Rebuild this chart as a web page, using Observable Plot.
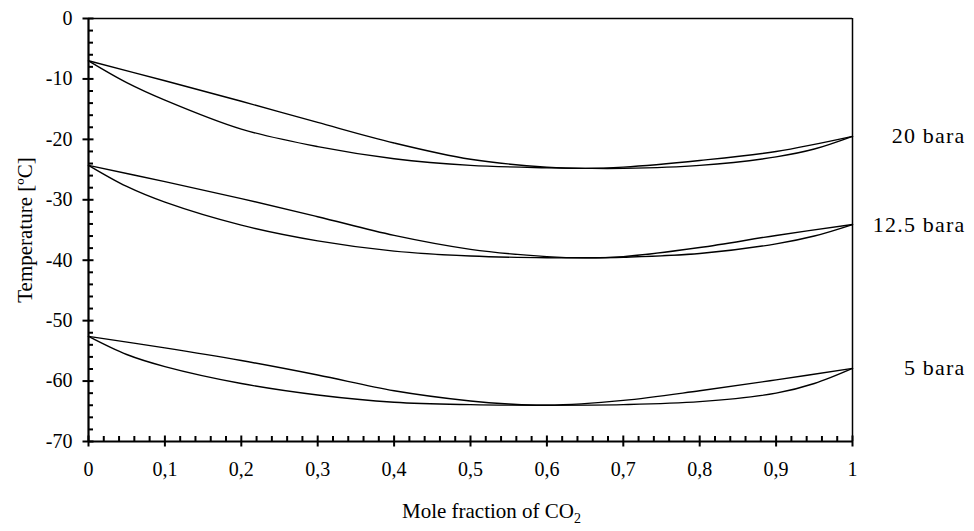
<!DOCTYPE html>
<html>
<head>
<meta charset="utf-8">
<script src="https://cdn.jsdelivr.net/npm/d3@7"></script>
<script src="https://cdn.jsdelivr.net/npm/@observablehq/plot@0.6"></script>
<style>
  html, body { margin: 0; padding: 0; background: #fff; }
  #chart svg { display: block; }
</style>
</head>
<body>
<div id="chart"></div>
<script>
// ---- data ----
const pressureLabels = ["20 bara", "12.5 bara", "5 bara"];

const x20Upper = [0, 0.1, 0.2, 0.3, 0.4, 0.5, 0.6, 0.65, 0.7, 0.8, 0.9, 1];
const t20Upper = [-7, -10.3, -13.7, -17.2, -20.6, -23.3, -24.6, -24.8, -24.6, -23.5, -22.0, -19.5];
const x20Lower = [0, 0.05, 0.1, 0.2, 0.3, 0.4, 0.5, 0.6, 0.65, 0.7, 0.8, 0.9, 0.95, 1];
const t20Lower = [-7, -10.6, -13.5, -18.3, -21.2, -23.2, -24.3, -24.7, -24.8, -24.8, -24.3, -22.9, -21.6, -19.5];

const x125Upper = [0, 0.1, 0.2, 0.3, 0.4, 0.5, 0.6, 0.65, 0.7, 0.8, 0.9, 1];
const t125Upper = [-24.3, -27.0, -29.8, -32.8, -35.9, -38.2, -39.4, -39.6, -39.4, -37.9, -35.9, -34.1];
const x125Lower = [0, 0.05, 0.1, 0.2, 0.3, 0.4, 0.5, 0.6, 0.65, 0.7, 0.8, 0.9, 0.95, 1];
const t125Lower = [-24.3, -27.8, -30.4, -34.2, -36.8, -38.5, -39.3, -39.6, -39.6, -39.5, -38.9, -37.3, -36.0, -34.1];

const x5Upper = [0, 0.1, 0.2, 0.3, 0.4, 0.5, 0.55, 0.6, 0.7, 0.8, 0.9, 1];
const t5Upper = [-52.6, -54.5, -56.6, -59.0, -61.6, -63.3, -63.8, -64.0, -63.2, -61.6, -59.8, -57.9];
const x5Lower = [0, 0.05, 0.1, 0.2, 0.3, 0.4, 0.5, 0.6, 0.7, 0.8, 0.9, 0.95, 1];
const t5Lower = [-52.6, -55.6, -57.6, -60.4, -62.3, -63.5, -63.9, -64.0, -63.9, -63.4, -62.0, -60.4, -57.9];

const labelT = [-19.5, -34.1, -57.9];

const xMajorTicks = [0, 0.1, 0.2, 0.3, 0.4, 0.5, 0.6, 0.7, 0.8, 0.9, 1];
const xTickLabels = ["0", "0,1", "0,2", "0,3", "0,4", "0,5", "0,6", "0,7", "0,8", "0,9", "1"];
const yMajorTicks = [0, -10, -20, -30, -40, -50, -60, -70];
const yTickLabels = ["0", "-10", "-20", "-30", "-40", "-50", "-60", "-70"];
const xTitle = "Mole fraction of CO₂";
const yTitle = "Temperature [ºC]";

// ---- build table ----
const series = [
  ["20 upper", x20Upper, t20Upper], ["20 lower", x20Lower, t20Lower],
  ["12.5 upper", x125Upper, t125Upper], ["12.5 lower", x125Lower, t125Lower],
  ["5 upper", x5Upper, t5Upper], ["5 lower", x5Lower, t5Lower]
];
const rows = series.flatMap(([key, xs, ts]) => xs.map((x, i) => ({key, x, t: ts[i]})));
const xMinor = d3.range(0, 101, 2).map(v => v / 100).filter(v => Math.round(v * 100) % 10 !== 0);
const yMinor = d3.range(-70, 1, 2).filter(v => v % 10 !== 0);
const labels = pressureLabels.map((s, i) => ({s, t: labelT[i]}));

const font = "'Liberation Serif', 'Times New Roman', serif";

const chart = Plot.plot({
  width: 974,
  height: 531,
  marginLeft: 88,
  marginRight: 122,
  marginTop: 18,
  marginBottom: 90,
  style: {fontFamily: font, fontSize: "20px", color: "#000", background: "#fff", overflow: "visible"},
  x: {domain: [0, 1], axis: null},
  y: {domain: [-70, 0], axis: null},
  marks: [
    // curves
    Plot.line(rows, {x: "x", y: "t", z: "key", curve: "catmull-rom", stroke: "#000", strokeWidth: 1.4}),
    // frame (top / right thin)
    Plot.ruleY([0], {stroke: "#000", strokeWidth: 1.5}),
    Plot.ruleX([1], {stroke: "#000", strokeWidth: 1.5}),
    // axes lines (left / bottom thick)
    Plot.ruleX([0], {stroke: "#000", strokeWidth: 2.2}),
    Plot.ruleY([-70], {stroke: "#000", strokeWidth: 2.2}),
    // major ticks crossing
    Plot.axisX({anchor: "bottom", ticks: xMajorTicks, tickSize: 11, dy: -5.5, text: null, label: null, stroke: "#000", strokeWidth: 2}),
    Plot.axisY({anchor: "left", ticks: yMajorTicks, tickSize: 11, dx: 5.5, text: null, label: null, stroke: "#000", strokeWidth: 2}),
    // minor ticks inward
    Plot.axisX({anchor: "bottom", ticks: xMinor, tickSize: 5, dy: -5, text: null, label: null, stroke: "#000", strokeWidth: 2}),
    Plot.axisY({anchor: "left", ticks: yMinor, tickSize: 5, dx: 5, text: null, label: null, stroke: "#000", strokeWidth: 2}),
    // tick labels
    Plot.axisX({anchor: "bottom", ticks: xMajorTicks, tickSize: 0, tickPadding: 20, label: null,
      tickFormat: d => xTickLabels[xMajorTicks.indexOf(d)], fontSize: 20, fill: "#000"}),
    Plot.axisY({anchor: "left", ticks: yMajorTicks, tickSize: 0, tickPadding: 16, label: null,
      tickFormat: d => yTickLabels[yMajorTicks.indexOf(d)], fontSize: 20, fill: "#000"}),
    // pressure labels
    Plot.text(labels, {x: () => 1, y: "t", text: "s", dx: 113, textAnchor: "end", fontSize: 22, fill: "#000", clip: false}),
    // axis titles
    Plot.text([xTitle], {frameAnchor: "bottom", text: d => d, dy: 76, dx: 21, fontSize: 21, fill: "#000", lineAnchor: "bottom"}),
    Plot.text([yTitle], {frameAnchor: "left", text: d => d, dx: -63, rotate: -90, textAnchor: "middle", fontSize: 21, fill: "#000"})
  ]
});

document.getElementById("chart").appendChild(chart);

// subscript for CO2 in the x title
chart.querySelectorAll("text").forEach(t => {
  if (t.textContent === xTitle) {
    t.textContent = "";
    const ns = "http://www.w3.org/2000/svg";
    t.appendChild(document.createTextNode("Mole fraction of CO"));
    const sub = document.createElementNS(ns, "tspan");
    sub.setAttribute("dy", "5");
    sub.setAttribute("font-size", "14");
    sub.textContent = "2";
    t.appendChild(sub);
  }
});
// letter spacing for the pressure labels
chart.querySelectorAll("text").forEach(t => {
  if (pressureLabels.includes(t.textContent)) t.setAttribute("letter-spacing", "1.2");
});
</script>
</body>
</html>
